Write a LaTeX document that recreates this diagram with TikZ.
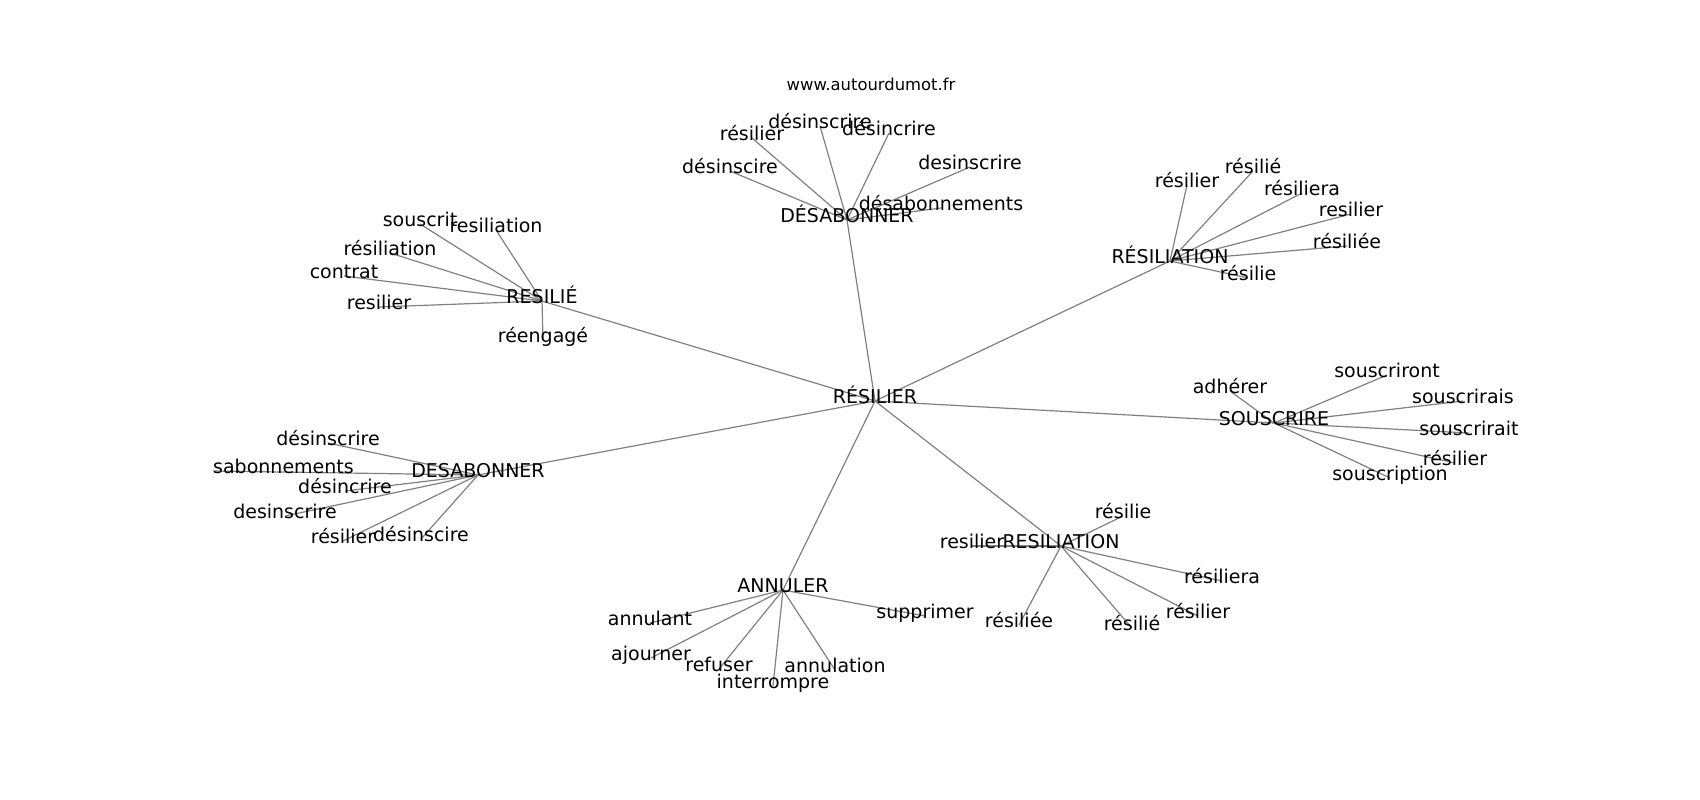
\documentclass[tikz,border=0pt]{standalone}
\usepackage{fontspec}
\setmainfont{DejaVu Sans}
\usetikzlibrary{backgrounds}
\definecolor{edgegray}{HTML}{808080}
\tikzset{
  lbl/.style={inner sep=0pt, text height=0.729em, text depth=0.236em, font=\fontsize{19}{22}\selectfont},
  ttl/.style={inner sep=0pt, anchor=base, font=\fontsize{16.4}{19}\selectfont},
  edge/.style={draw=edgegray, line width=1.2pt}
}
\begin{document}
\begin{tikzpicture}[x=1pt,y=-1pt]
\useasboundingbox (0,0) rectangle (1700,800);
\begin{scope}[yshift=-3pt]
\node[ttl] (www) at (871,88) {www.autourdumot.fr};
% centre
\node[lbl] (c) at (875,398) {RÉSILIER};
% hubs
\node[lbl] (h1) at (847,217) {DÉSABONNER};
\node[lbl] (h2) at (542,298) {RESILIÉ};
\node[lbl] (h3) at (1170,258) {RÉSILIATION};
\node[lbl] (h4) at (1274,420) {SOUSCRIRE};
\node[lbl] (h5) at (1061,543) {RESILIATION};
\node[lbl] (h6) at (783,587) {ANNULER};
\node[lbl] (h7) at (478,472) {DESABONNER};
% DÉSABONNER leaves
\node[lbl] (a1) at (820,123) {désinscrire};
\node[lbl] (a2) at (752,135) {résilier};
\node[lbl] (a3) at (889,130) {désincrire};
\node[lbl] (a4) at (730,168) {désinscire};
\node[lbl] (a5) at (970,164) {desinscrire};
\node[lbl] (a6) at (941,205) {désabonnements};
% RESILIÉ leaves
\node[lbl] (b1) at (420,221) {souscrit};
\node[lbl] (b2) at (496,227) {resiliation};
\node[lbl] (b3) at (390,250) {résiliation};
\node[lbl] (b4) at (344,273) {contrat};
\node[lbl] (b5) at (379,304) {resilier};
\node[lbl] (b6) at (543,337) {réengagé};
% RÉSILIATION leaves
\node[lbl] (d1) at (1187,182) {résilier};
\node[lbl] (d2) at (1253,168) {résilié};
\node[lbl] (d3) at (1302,190) {résiliera};
\node[lbl] (d4) at (1351,211) {resilier};
\node[lbl] (d5) at (1347,243) {résiliée};
\node[lbl] (d6) at (1248,275) {résilie};
% SOUSCRIRE leaves
\node[lbl] (e1) at (1230,388) {adhérer};
\node[lbl] (e2) at (1387,372) {souscriront};
\node[lbl] (e3) at (1463,398) {souscrirais};
\node[lbl] (e4) at (1469,430) {souscrirait};
\node[lbl] (e5) at (1455,460) {résilier};
\node[lbl] (e6) at (1390,475) {souscription};
% RESILIATION leaves
\node[lbl] (f1) at (972,543) {resilier};
\node[lbl] (f2) at (1123,513) {résilie};
\node[lbl] (f3) at (1222,578) {résiliera};
\node[lbl] (f4) at (1198,613) {résilier};
\node[lbl] (f5) at (1132,625) {résilié};
\node[lbl] (f6) at (1019,622) {résiliée};
% ANNULER leaves
\node[lbl] (g1) at (650,620) {annulant};
\node[lbl] (g2) at (651,655) {ajourner};
\node[lbl] (g3) at (719,666) {refuser};
\node[lbl] (g4) at (773,683) {interrompre};
\node[lbl] (g5) at (835,667) {annulation};
\node[lbl] (g6) at (925,613) {supprimer};
% DESABONNER leaves
\node[lbl] (k1) at (328,440) {désinscrire};
\node[lbl, anchor=west] (k2) at (213,468) {sabonnements};
\node[lbl] (k3) at (345,488) {désincrire};
\node[lbl] (k4) at (285,513) {desinscrire};
\node[lbl] (k5) at (343,538) {résilier};
\node[lbl] (k6) at (421,536) {désinscire};
\begin{pgfonlayer}{background}
\foreach \h in {h1,h2,h3,h4,h5,h6,h7}
  \draw[edge] (c.center) -- (\h.center);
\foreach \l in {a1,a2,a3,a4,a5,a6}
  \draw[edge] (h1.center) -- (\l.center);
\foreach \l in {b1,b2,b3,b4,b5,b6}
  \draw[edge] (h2.center) -- (\l.center);
\foreach \l in {d1,d2,d3,d4,d5,d6}
  \draw[edge] (h3.center) -- (\l.center);
\foreach \l in {e1,e2,e3,e4,e5,e6}
  \draw[edge] (h4.center) -- (\l.center);
\foreach \l in {f1,f2,f3,f4,f5,f6}
  \draw[edge] (h5.center) -- (\l.center);
\foreach \l in {g1,g2,g3,g4,g5,g6}
  \draw[edge] (h6.center) -- (\l.center);
\foreach \l in {k1,k3,k4,k5,k6}
  \draw[edge] (h7.center) -- (\l.center);
\draw[edge] (h7.center) -- (k2.west);
\end{pgfonlayer}
\end{scope}
\end{tikzpicture}
\end{document}
